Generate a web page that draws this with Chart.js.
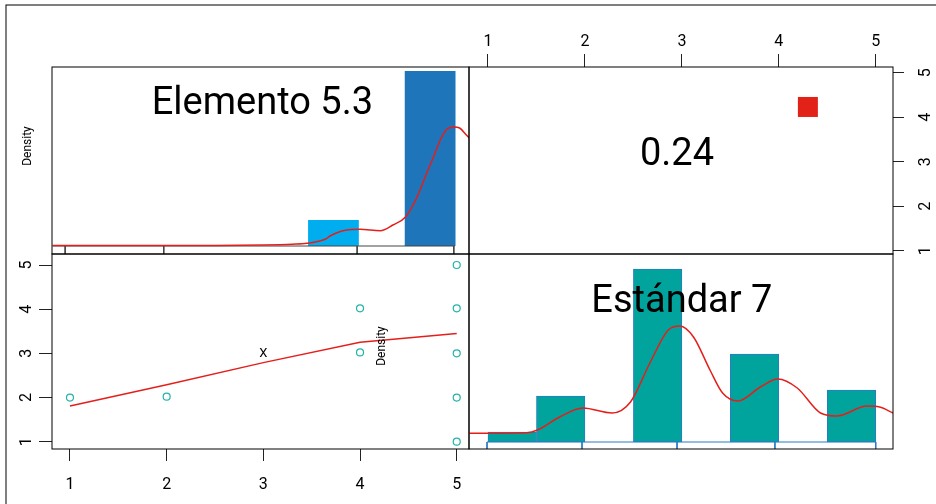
<!DOCTYPE html>
<html>
<head>
<meta charset="utf-8">
<script src="https://cdn.jsdelivr.net/npm/chart.js@4.4.1/dist/chart.umd.min.js"></script>
<style>
  html, body { margin: 0; padding: 0; background: #fff; }
  #stage { position: relative; width: 936px; height: 504px; overflow: hidden; }
  #stage canvas { position: absolute; left: 0; top: 0; }
</style>
</head>
<body>
<div id="stage">
  <canvas id="pTL" width="936" height="504"></canvas>
  <canvas id="pTR" width="936" height="504"></canvas>
  <canvas id="pBL" width="936" height="504"></canvas>
  <canvas id="pBR" width="936" height="504"></canvas>
</div>
<script>
// ---------- data ----------
const varNames = ['Elemento 5.3', 'Estándar 7'];
const axisTicks = [1, 2, 3, 4, 5];

// histogram bins (width 0.5)
const binCentresElemento = [1.225, 1.725, 2.225, 2.725, 3.225, 3.725, 4.225, 4.725];
const binCentresEstandar = [1.25, 1.75, 2.25, 2.75, 3.25, 3.75, 4.25, 4.75];

// Elemento 5.3: histogram densities, kernel density, bin baseline
const densElemento = [0, 0, 0, 0, 0, 0.26, 0, 1.75];
const barColoursElemento = ['#00AEEF', '#00AEEF', '#00AEEF', '#00AEEF', '#00AEEF', '#00AEEF', '#1F75BA', '#1F75BA'];
const kdeElementoX = [0.82, 1.5, 2.5, 3.0, 3.3, 3.45, 3.64, 3.69, 3.76, 3.86, 4.0, 4.21, 4.34, 4.47, 4.59, 4.69, 4.76, 4.83, 4.9, 4.97, 5.03, 5.1, 5.13];
const kdeElementoY = [0.004, 0.004, 0.005, 0.01, 0.018, 0.027, 0.067, 0.10, 0.133, 0.16, 0.167, 0.153, 0.21, 0.29, 0.49, 0.73, 0.89, 1.06, 1.17, 1.19, 1.18, 1.11, 1.08];
const baseElementoX = [0.82, 4.98];
const edgeElementoX = [0.95, 1.97, 3.97, 4.97];

// Estándar 7: histogram densities, kernel density, bin baseline
const densEstandar = [0.10, 0.46, 0, 1.73, 0, 0.88, 0, 0.52];
const kdeEstandarX = [0.80, 1.40, 1.51, 1.74, 1.98, 2.28, 2.47, 2.67, 2.86, 2.98, 3.12, 3.29, 3.42, 3.58, 3.81, 3.99, 4.19, 4.43, 4.60, 4.91, 5.04, 5.18];
const kdeEstandarY = [0.087, 0.093, 0.12, 0.25, 0.34, 0.29, 0.40, 0.79, 1.12, 1.16, 1.05, 0.72, 0.49, 0.41, 0.55, 0.63, 0.54, 0.29, 0.26, 0.36, 0.35, 0.29];
const baseEstandarX = [0.99, 5.0];
const edgeEstandarX = [0.99, 1.97, 2.95, 3.96, 5.0];

// Elemento 5.3 (x) vs Estándar 7 (y)
const scatterX = [1, 2, 4, 4, 5, 5, 5, 5, 5];
const scatterY = [2, 2.02, 4.02, 3.02, 5, 4.02, 3, 2, 1];
const loessX = [1, 2, 3, 4, 5];
const loessY = [1.81, 2.29, 2.79, 3.25, 3.45];
const centreXY = [3, 3.0];

// correlation panel
const corrValue = 0.24;
const corrMarker = [4.3, 4.23];

// ---------- layout ----------
const W = 936, H = 504;
const P = { left: 52, midX: 469, right: 893, top: 67, midY: 254, bottom: 449 };
const xRangeLeft = [0.814, 5.127];
const xRangeRight = [0.804, 5.178];
const yRangeLower = [0.835, 5.249];
const yRangeUpper = [0.926, 5.128];
const densRangeUpper = [-0.08, 1.79];
const densRangeLower = [-0.07, 1.88];

const RED = '#E41F1B';
const TEAL_PT = '#22B3A9';
const TEAL_BAR = '#00A49C';
const BLUE_EDGE = '#2A7BC4';

Chart.defaults.font.family = 'Roboto';
Chart.defaults.color = '#000';

const setTicks = (scale) => { scale.ticks = axisTicks.map(v => ({ value: v })); };

function edgeSegments(base, edges, depth) {
  const pts = [{ x: base[0], y: 0 }, { x: base[1], y: 0 }, { x: base[1], y: null }];
  edges.forEach(e => { pts.push({ x: e, y: 0 }, { x: e, y: depth }, { x: e, y: null }); });
  return pts;
}
const xy = (xs, ys) => xs.map((x, i) => ({ x, y: ys[i] }));

// panel box: each panel strokes its own plotting rectangle
function boxPlugin(outer) {
  return {
    id: 'panelBox',
    afterDraw(chart) {
      const { left, top, right, bottom } = chart.chartArea;
      const ctx = chart.ctx;
      ctx.save();
      ctx.strokeStyle = '#000';
      ctx.lineWidth = 1;
      ctx.strokeRect(left, top, right - left, bottom - top);
      if (outer) ctx.strokeRect(6, 5, 2000, 2000);
      ctx.restore();
    }
  };
}

// free text drawn on a panel; positions in data units (xv/yv) or pixels (px/py)
function textPlugin(items) {
  return {
    id: 'panelText',
    afterDatasetsDraw(chart) {
      const ctx = chart.ctx;
      items.forEach(it => {
        const x = it.xv !== undefined ? chart.scales.x.getPixelForValue(it.xv) : it.px;
        const y = it.yv !== undefined ? chart.scales.y.getPixelForValue(it.yv) : it.py;
        ctx.save();
        ctx.translate(x, y);
        if (it.rot) ctx.rotate(it.rot);
        ctx.font = it.font;
        ctx.fillStyle = '#000';
        ctx.textAlign = 'center';
        ctx.textBaseline = it.baseline || 'alphabetic';
        ctx.fillText(it.text, 0, 0);
        ctx.restore();
      });
    }
  };
}

const baseOpts = {
  responsive: false,
  animation: false,
  devicePixelRatio: 1,
  plugins: { legend: { display: false }, tooltip: { enabled: false } }
};

function axisOpts(position, range, tickLen, pad, fitSize, rotated) {
  return {
    type: 'linear', position, min: range[0], max: range[1],
    afterBuildTicks: setTicks,
    afterFit: (s) => { if (s.isHorizontal()) s.height = fitSize; else s.width = fitSize; },
    grid: { display: true, drawOnChartArea: false, drawTicks: true, tickLength: tickLen, tickColor: '#222', lineWidth: 1 },
    border: { display: false },
    ticks: {
      color: '#000', font: { size: 16 }, padding: pad, autoSkip: false,
      minRotation: rotated ? 90 : 0, maxRotation: rotated ? 90 : 0,
      crossAlign: rotated ? 'center' : 'near'
    }
  };
}

// ----- top-left: histogram of Elemento 5.3 -----
new Chart(document.getElementById('pTL'), {
  type: 'bar',
  data: {
    datasets: [
      { type: 'line', data: xy(kdeElementoX, kdeElementoY), borderColor: RED, borderWidth: 1.5, pointRadius: 0, cubicInterpolationMode: 'monotone', order: 0 },
      { type: 'line', data: edgeSegments(baseElementoX, edgeElementoX, densRangeUpper[0]), borderColor: '#444', borderWidth: 1, pointRadius: 0, tension: 0, order: 1 },
      { type: 'bar', data: xy(binCentresElemento, densElemento), backgroundColor: barColoursElemento, borderWidth: 0, barPercentage: 1.05, categoryPercentage: 1, order: 2 }
    ]
  },
  options: Object.assign({}, baseOpts, {
    layout: { padding: { left: P.left, top: P.top, right: W - P.midX, bottom: H - P.midY } },
    scales: {
      x: { type: 'linear', display: false, min: xRangeLeft[0], max: xRangeLeft[1], offset: false, grid: { offset: false }, afterBuildTicks: setTicks },
      y: { type: 'linear', display: false, min: densRangeUpper[0], max: densRangeUpper[1] }
    }
  }),
  plugins: [
    textPlugin([
      { text: varNames[0], xv: 2.99, py: 114, font: '38px Roboto' },
      { text: 'Density', px: 28, py: 146, rot: -Math.PI / 2, font: '12px Roboto', baseline: 'middle' }
    ]),
    boxPlugin(true)
  ]
});

// ----- top-right: correlation -----
new Chart(document.getElementById('pTR'), {
  type: 'scatter',
  data: {
    datasets: [
      { data: [{ x: corrMarker[0], y: corrMarker[1] }], pointStyle: 'rect', pointRadius: 14.14, backgroundColor: '#E22119', borderWidth: 0 }
    ]
  },
  options: Object.assign({}, baseOpts, {
    layout: { padding: { left: P.midX, top: 0, right: 0, bottom: H - P.midY } },
    scales: {
      x: axisOpts('top', xRangeRight, 13, 2, P.top, false),
      y: axisOpts('right', yRangeUpper, 11, 18, W - P.right, true)
    }
  }),
  plugins: [
    textPlugin([{ text: corrValue.toFixed(2), px: 677, py: 165, font: '38px Roboto' }]),
    boxPlugin(false)
  ]
});

// ----- bottom-left: scatter with smoother -----
new Chart(document.getElementById('pBL'), {
  type: 'scatter',
  data: {
    datasets: [
      { data: xy(loessX, loessY), showLine: true, borderColor: RED, borderWidth: 1.5, pointRadius: 0, tension: 0, order: 0 },
      { data: xy(scatterX, scatterY), pointStyle: 'circle', pointRadius: 3.5, borderColor: TEAL_PT, backgroundColor: 'rgba(0,0,0,0)', borderWidth: 1.2, order: 1 }
    ]
  },
  options: Object.assign({}, baseOpts, {
    layout: { padding: { left: 0, top: P.midY, right: W - P.midX, bottom: 0 } },
    scales: {
      x: axisOpts('bottom', xRangeLeft, 12, 14, H - P.bottom, false),
      y: axisOpts('left', yRangeLower, 13, 8, P.left, true)
    }
  }),
  plugins: [
    textPlugin([{ text: 'X', xv: centreXY[0], yv: centreXY[1], font: '13px Roboto', baseline: 'middle' }]),
    boxPlugin(false)
  ]
});

// ----- bottom-right: histogram of Estándar 7 -----
new Chart(document.getElementById('pBR'), {
  type: 'bar',
  data: {
    datasets: [
      { type: 'line', data: xy(kdeEstandarX, kdeEstandarY), borderColor: RED, borderWidth: 1.5, pointRadius: 0, cubicInterpolationMode: 'monotone', order: 0 },
      { type: 'line', data: edgeSegments(baseEstandarX, edgeEstandarX, densRangeLower[0]), borderColor: BLUE_EDGE, borderWidth: 1, pointRadius: 0, tension: 0, order: 1 },
      { type: 'bar', data: xy(binCentresEstandar, densEstandar), backgroundColor: TEAL_BAR, borderColor: BLUE_EDGE, borderWidth: 1, borderSkipped: false, barPercentage: 1, categoryPercentage: 1, order: 2 }
    ]
  },
  options: Object.assign({}, baseOpts, {
    layout: { padding: { left: P.midX, top: P.midY, right: W - P.right, bottom: H - P.bottom } },
    scales: {
      x: { type: 'linear', display: false, min: xRangeRight[0], max: xRangeRight[1], offset: false, grid: { offset: false }, afterBuildTicks: setTicks },
      y: { type: 'linear', display: false, min: densRangeLower[0], max: densRangeLower[1] }
    }
  }),
  plugins: [
    textPlugin([
      { text: varNames[1], xv: 3, py: 312, font: '38px Roboto' },
      { text: 'Density', px: 382, py: 346, rot: -Math.PI / 2, font: '12px Roboto', baseline: 'middle' }
    ]),
    boxPlugin(false)
  ]
});
</script>
</body>
</html>
